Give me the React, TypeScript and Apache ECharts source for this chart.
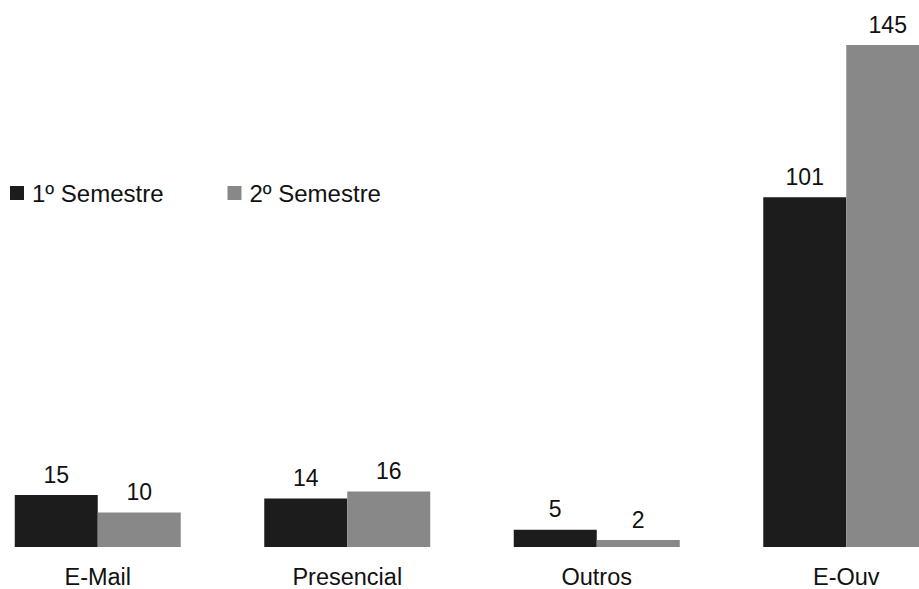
import React, { useEffect, useRef } from "react";
import * as echarts from "echarts";

const categories = ["E-Mail", "Presencial", "Outros", "E-Ouv"];
const semestre1 = [15, 14, 5, 101];
const semestre2 = [10, 16, 2, 145];
const seriesNames = ["1º Semestre", "2º Semestre"];

export default function App() {
  const ref = useRef<HTMLDivElement>(null);
  useEffect(() => {
    const chart = echarts.init(ref.current!, null, { renderer: "svg" });
    const font = "Liberation Sans";
    chart.setOption({
      animation: false,
      textStyle: { fontFamily: font },
      legend: {
        left: 32,
        top: 176,
        itemWidth: 14,
        itemHeight: 14,
        itemGap: 64,
        icon: "rect",
        textStyle: { fontSize: 24, color: "#111", fontFamily: font, padding: [0, 0, 0, 3] },
        data: seriesNames,
      },
      grid: { left: 0, right: 0, top: 45, bottom: 42, containLabel: false },
      xAxis: {
        type: "category",
        data: categories,
        axisLine: { show: false },
        axisTick: { show: false },
        axisLabel: { fontSize: 23.5, color: "#111", margin: 18, fontFamily: font },
      },
      yAxis: {
        type: "value",
        min: 0,
        max: 145,
        show: false,
        splitLine: { show: false },
      },
      series: [
        {
          name: seriesNames[0],
          type: "bar",
          data: semestre1,
          barGap: "0%",
          barWidth: 83,
          itemStyle: { color: "#1c1c1c" },
          label: { show: true, position: "top", distance: 9, fontSize: 23, color: "#111", fontFamily: font },
        },
        {
          name: seriesNames[1],
          type: "bar",
          data: semestre2,
          barGap: "0%",
          barWidth: 83,
          itemStyle: { color: "#888888" },
          label: { show: true, position: "top", distance: 9, fontSize: 23, color: "#111", fontFamily: font },
        },
      ],
    });
    return () => chart.dispose();
  }, []);
  return (
    <div style={{ width: 919, height: 589, position: "absolute", left: 0, top: 0, overflow: "hidden" }}>
      <div ref={ref} style={{ width: 998, height: 589, position: "absolute", left: -27, top: 0 }} />
    </div>
  );
}
